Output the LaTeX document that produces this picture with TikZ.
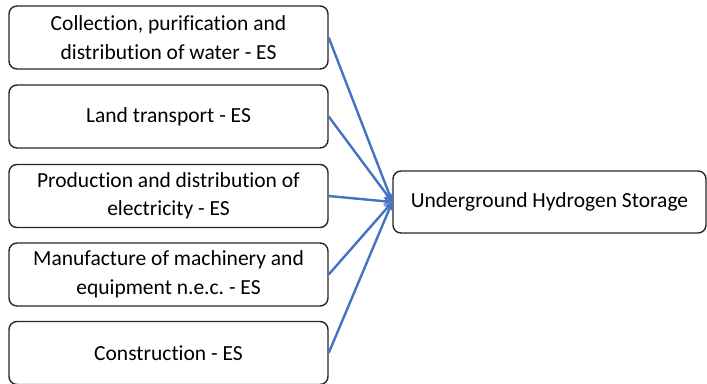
\documentclass[tikz,border=0pt]{standalone}
\usepackage{fontspec}
\setmainfont[Ligatures=NoCommon]{Carlito}
\usetikzlibrary{arrows.meta}
\definecolor{linkblue}{HTML}{4472C4}
\frenchspacing

\begin{document}
\begin{tikzpicture}[x=1pt,y=-1pt,
    sector/.style={draw=black!85, line width=1.4pt, rounded corners=8pt, align=center,
      minimum width=319pt, minimum height=63pt, inner sep=0pt,
      font=\fontsize{21.5}{28.5}\selectfont},
    target/.style={sector, minimum width=313pt, minimum height=62pt},
    link/.style={draw=linkblue, line width=2.4pt, -{Stealth[length=9pt,width=8pt]}}]
      \useasboundingbox (0,0) rectangle (707,383);

      \node[sector] (water) at (168.5,37.5) {Collection, purification and\\distribution of water - ES};
      \node[sector] (land)  at (168.5,116.5) {Land transport - ES};
      \node[sector] (elec)  at (168.5,196) {Production and distribution of\\electricity - ES};
      \node[sector] (mach)  at (168.5,274.5) {Manufacture of machinery and\\equipment n.e.c. - ES};
      \node[sector] (cons)  at (168.5,353) {Construction - ES};

      \node[target] (ugs) at (549.5,202) {Underground Hydrogen Storage};

      \draw [link] (water.east) -- (ugs.west);
      \draw [link] (land.east) -- (ugs.west);
      \draw [link] (elec.east) -- (ugs.west);
      \draw [link] (mach.east) -- (ugs.west);
      \draw [link] (cons.east) -- (ugs.west);
\end{tikzpicture}
\end{document}
